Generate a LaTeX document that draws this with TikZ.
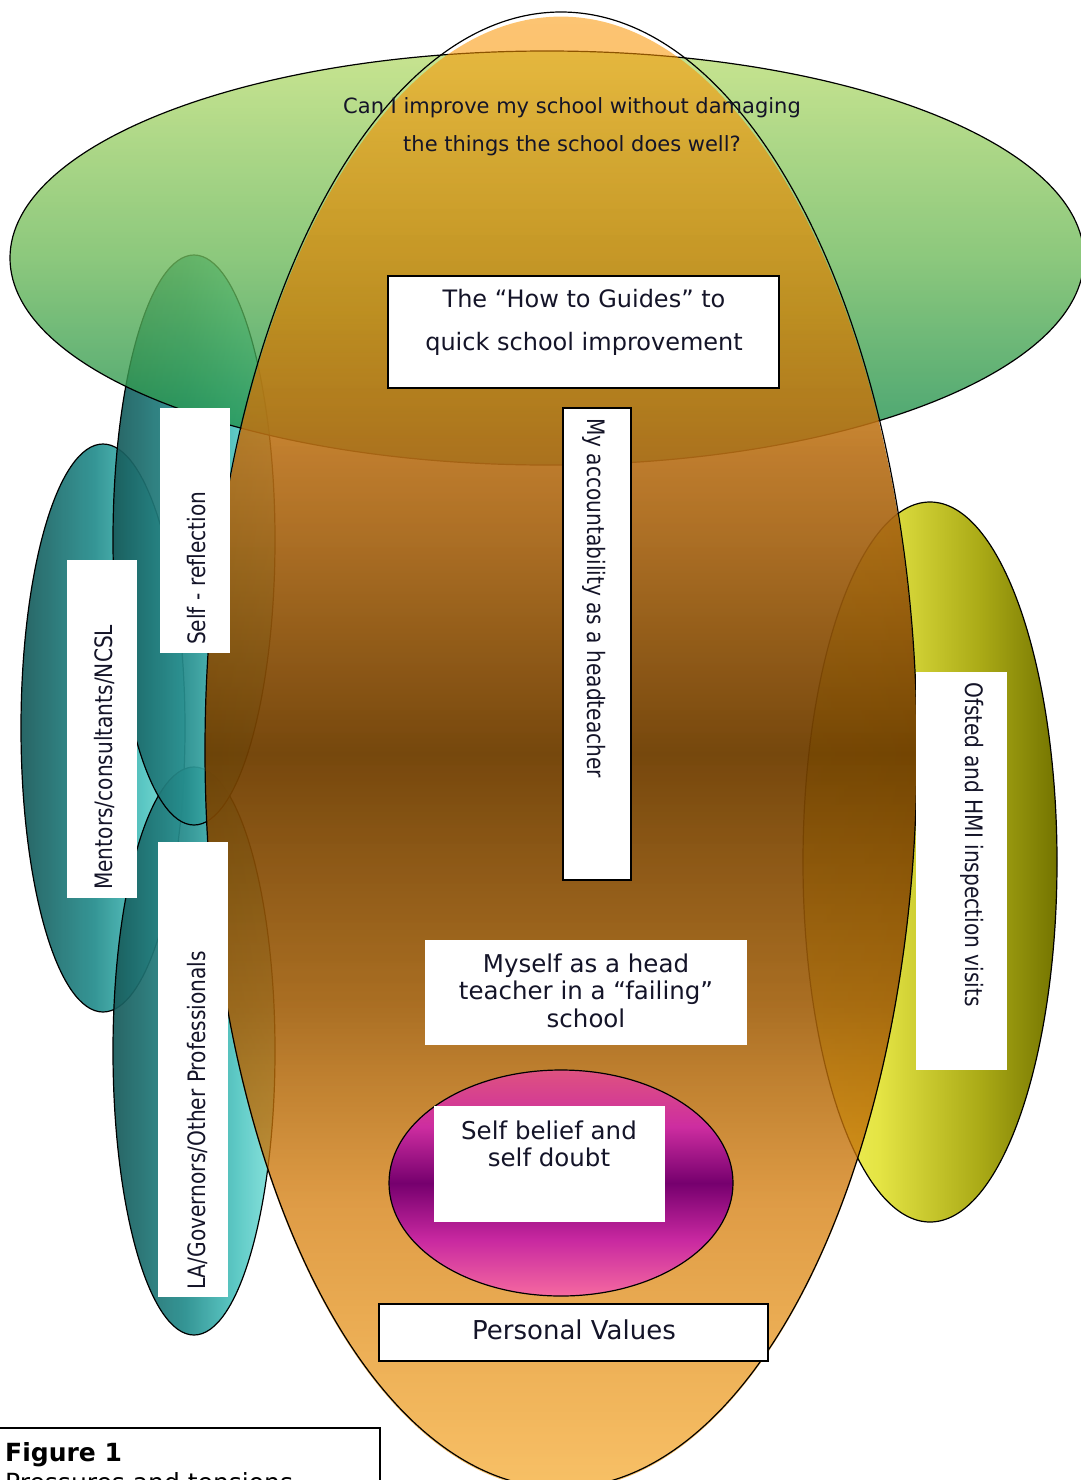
\documentclass[tikz,border=0pt]{standalone}
\usepackage{fontspec}
\setmainfont{DejaVu Sans}
\newfontfamily\narrowfont{DejaVu Sans}[FakeStretch=0.84]
\usetikzlibrary{fadings}

% ink
\definecolor{inkc}{RGB}{20,20,40}
% teal ellipses (left to right)
\definecolor{tealA}{RGB}{24,90,90}
\definecolor{tealB}{RGB}{38,142,142}
\definecolor{tealC}{RGB}{80,196,192}
\definecolor{tealD}{RGB}{132,226,220}
% yellow ellipse (left to right)
\definecolor{yelA}{RGB}{246,246,100}
\definecolor{yelB}{RGB}{228,228,68}
\definecolor{yelC}{RGB}{170,170,22}
\definecolor{yelD}{RGB}{116,116,0}
% green ellipse (bottom to top)
\definecolor{grnA}{RGB}{16,136,76}
\definecolor{grnB}{RGB}{111,186,92}
\definecolor{grnC}{RGB}{186,221,116}
% orange ellipse (bottom to top)
\definecolor{orA}{RGB}{243,150,0}
\definecolor{orB}{RGB}{211,122,8}
\definecolor{orC}{RGB}{160,94,10}
\definecolor{orD}{RGB}{111,62,0}
\definecolor{orE}{RGB}{183,110,22}
\definecolor{orF}{RGB}{212,128,6}
\definecolor{orG}{RGB}{250,148,0}
% pink ellipse (bottom to top)
\definecolor{pkA}{RGB}{245,105,160}
\definecolor{pkB}{RGB}{200,40,160}
\definecolor{pkC}{RGB}{118,0,110}
\definecolor{pkD}{RGB}{205,45,160}
\definecolor{pkE}{RGB}{222,82,128}

% shadings: the band from 25bp to 75bp is stretched over the filled path
\pgfdeclarehorizontalshading{tealshade}{100bp}{color(0bp)=(tealA); color(25bp)=(tealA); color(47.5bp)=(tealB); color(62.5bp)=(tealC); color(75bp)=(tealD); color(100bp)=(tealD)}
\pgfdeclarehorizontalshading{yellowshade}{100bp}{color(0bp)=(yelA); color(25bp)=(yelA); color(40bp)=(yelB); color(60bp)=(yelC); color(75bp)=(yelD); color(100bp)=(yelD)}
\pgfdeclareverticalshading{greenshade}{100bp}{color(0bp)=(grnA); color(25bp)=(grnA); color(50bp)=(grnB); color(75bp)=(grnC); color(100bp)=(grnC)}
\pgfdeclareverticalshading{orangeshade}{100bp}{color(0bp)=(orA); color(25bp)=(orA); color(34.75bp)=(orB); color(41.5bp)=(orC); color(50bp)=(orD); color(60bp)=(orE); color(65bp)=(orF); color(73bp)=(orG); color(100bp)=(orG)}
\pgfdeclareverticalshading{pinkshade}{100bp}{color(0bp)=(pkA); color(25bp)=(pkA); color(37.5bp)=(pkB); color(50bp)=(pkC); color(62.5bp)=(pkD); color(75bp)=(pkE); color(100bp)=(pkE)}
% opacity of the orange ellipse along its height (white = opaque)
\pgfdeclareverticalshading{orangefadeshade}{100bp}{color(0bp)=(black!40); color(25bp)=(black!40); color(34.75bp)=(black!25); color(41.5bp)=(black!10); color(50bp)=(black!5); color(60bp)=(black!10); color(65bp)=(black!25); color(73bp)=(black!43); color(75bp)=(black!45); color(100bp)=(black!45)}
\pgfdeclarefading{orangefade}{\pgfuseshading{orangefadeshade}}

\begin{document}
\begin{tikzpicture}[x=1pt, y=-1pt,
  rim/.style={draw=black, line width=1.2pt},
  whitebox/.style={fill=white, draw=none, inner sep=0pt, outer sep=0pt},
  linedbox/.style={fill=white, draw=black, line width=1.1pt, inner sep=0pt, outer sep=0pt},
  boxtext/.style={text=inkc, inner sep=0pt, align=center},
  sidetext/.style={text=inkc, inner sep=0pt, font=\narrowfont\fontsize{24}{28}\selectfont}]
\useasboundingbox (0,0) rectangle (1081,1480);

% teal ellipses on the left
\shade[shading=tealshade, fill opacity=0.93, rim] (103,728) ellipse [x radius=82, y radius=284];
\shade[shading=tealshade, fill opacity=0.93, rim] (194,1051) ellipse [x radius=81, y radius=284];
\shade[shading=tealshade, fill opacity=0.93, rim] (194,540) ellipse [x radius=81, y radius=285];

% yellow ellipse on the right
\shade[shading=yellowshade, rim] (930,862) ellipse [x radius=127, y radius=360];

% green ellipse at the top
\shade[shading=greenshade, fill opacity=0.8, rim] (547,258) ellipse [x radius=537, y radius=207];

% large orange ellipse
\shade[shading=orangeshade, path fading=orangefade] (561,750) ellipse [x radius=356, y radius=738];
\draw[rim] (561,750) ellipse [x radius=356, y radius=738];

% pink ellipse
\shade[shading=pinkshade, rim] (561,1183) ellipse [x radius=172, y radius=113];

% question inside the green ellipse
\node[boxtext, font=\fontsize{21}{38}\selectfont] (question) at (572,127)
  {Can I improve my school without damaging\\the things the school does well?};

% boxes
\node[linedbox, minimum width=391pt, minimum height=112pt] (guidesbox) at (583.5,332) {};
\node[boxtext, font=\fontsize{24}{43}\selectfont] (guides) at (584,322)
  {The “How to Guides” to\\quick school improvement};

\node[linedbox, minimum width=68pt, minimum height=472pt] (accbox) at (597,644) {};
\node[sidetext, rotate=-90, anchor=west] (acc) at (594,418) {My accountability as a headteacher};

\node[whitebox, minimum width=322pt, minimum height=105pt] (failbox) at (586,992.5) {};
\node[boxtext, font=\fontsize{24.5}{27.5}\selectfont] (fail) at (586,990.5)
  {Myself as a head\\teacher in a “failing”\\school};

\node[whitebox, minimum width=231pt, minimum height=116pt] (beliefbox) at (549.5,1164) {};
\node[boxtext, font=\fontsize{24.5}{27}\selectfont] (belief) at (549,1144)
  {Self belief and\\self doubt};

\node[linedbox, minimum width=389pt, minimum height=57pt] (valuesbox) at (573.5,1332.5) {};
\node[boxtext, font=\fontsize{26}{30}\selectfont] (values) at (574,1330) {Personal Values};

\node[whitebox, minimum width=70pt, minimum height=245pt] (reflbox) at (195,530.5) {};
\node[sidetext, rotate=90, anchor=west] (refl) at (197,645) {Self - reflection};

\node[whitebox, minimum width=70pt, minimum height=338pt] (mentbox) at (102,729) {};
\node[sidetext, rotate=90, anchor=west] (ment) at (104,890) {Mentors/consultants/NCSL};

\node[whitebox, minimum width=70pt, minimum height=455pt] (labox) at (193,1069.5) {};
\node[sidetext, rotate=90, anchor=west] (la) at (197,1290) {LA/Governors/Other Professionals};

\node[whitebox, minimum width=91pt, minimum height=398pt] (ofstedbox) at (961.5,871) {};
\node[sidetext, rotate=-90, anchor=west] (ofsted) at (972,682) {Ofsted and HMI inspection visits};

% caption
\node[linedbox, anchor=north west, minimum width=382pt, minimum height=90pt] (figbox) at (-2,1428) {};
\node[text=black, inner sep=0pt, anchor=north west, align=left, font=\fontsize{25}{30}\selectfont] (fig) at (5,1442)
  {\textbf{Figure 1}\\Pressures and tensions};
\end{tikzpicture}
\end{document}
